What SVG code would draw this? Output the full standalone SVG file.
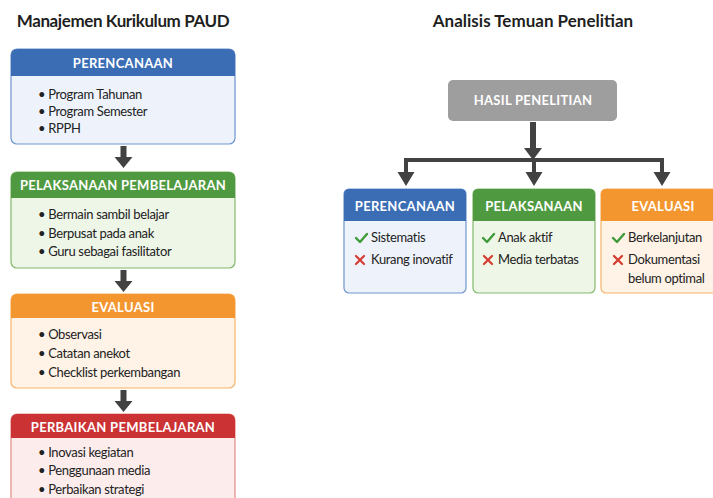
<svg xmlns="http://www.w3.org/2000/svg" width="713" height="498" viewBox="0 0 713 498">
<style>
text{font-family:Lato,"Open Sans","Liberation Sans",sans-serif}
.title{font-size:17px;font-weight:700;fill:#1f1f1f;text-anchor:middle}
.hd{font-size:13px;font-weight:700;fill:#fff;text-anchor:middle;letter-spacing:0.3px}
.it{font-size:13px;fill:#222;letter-spacing:-0.35px}
.conn{stroke:#424242;fill:none}
.ah{fill:#424242}
.ok{stroke:#3f9a3a;stroke-width:2.4;fill:none;stroke-linecap:round;stroke-linejoin:round}
.no{stroke:#d63a30;stroke-width:2.2;fill:none;stroke-linecap:round}
</style>
<rect width="713" height="498" fill="#ffffff"/>
<text class="title" x="123" y="27" letter-spacing="-0.4">Manajemen Kurikulum PAUD</text>
<text class="title" x="533" y="27">Analisis Temuan Penelitian</text>

<g id="connectors">
  <path class="conn" stroke-width="6" d="M123.5 146V158M123.5 270V282M123.5 390V402"/>
  <path class="ah" d="M114.5 157H132.5L123.5 168ZM114.5 281H132.5L123.5 292ZM114.5 401H132.5L123.5 412Z"/>
  <path class="conn" stroke-width="6" d="M533 122V150"/>
  <path class="ah" d="M524 148H542L533 160Z"/>
  <path class="conn" stroke-width="4" d="M406 174V160H662V174M534 160V174"/>
  <path class="ah" d="M397.5 172H414.5L406 186ZM525.5 172H542.5L534 186ZM653.5 172H670.5L662 186Z"/>
</g>

<g id="l-perencanaan">
  <rect x="11" y="49" width="224" height="95" rx="6" fill="#eef3fb" stroke="#6f95cf" stroke-width="1.2"/>
  <path d="M11 76V55a6 6 0 0 1 6-6H229a6 6 0 0 1 6 6V76Z" fill="#3b6db5"/>
  <text class="hd" x="123" y="68">PERENCANAAN</text>
  <text class="it" x="38" y="99">•  Program Tahunan</text>
  <text class="it" x="38" y="116">•  Program Semester</text>
  <text class="it" x="38" y="133">•  RPPH</text>
</g>
<g id="l-pelaksanaan">
  <rect x="11" y="172" width="224" height="96" rx="6" fill="#eef6e8" stroke="#82b86c" stroke-width="1.2"/>
  <path d="M11 198V178a6 6 0 0 1 6-6H229a6 6 0 0 1 6 6V198Z" fill="#4f9a40"/>
  <text class="hd" x="123" y="190">PELAKSANAAN PEMBELAJARAN</text>
  <text class="it" x="38" y="219">•  Bermain sambil belajar</text>
  <text class="it" x="38" y="238">•  Berpusat pada anak</text>
  <text class="it" x="38" y="256">•  Guru sebagai fasilitator</text>
</g>
<g id="l-evaluasi">
  <rect x="11" y="294" width="224" height="94" rx="6" fill="#fef3e6" stroke="#f4b56a" stroke-width="1.2"/>
  <path d="M11 318V300a6 6 0 0 1 6-6H229a6 6 0 0 1 6 6V318Z" fill="#f3962f"/>
  <text class="hd" x="123" y="312">EVALUASI</text>
  <text class="it" x="38" y="339">•  Observasi</text>
  <text class="it" x="38" y="358">•  Catatan anekot</text>
  <text class="it" x="38" y="377">•  Checklist perkembangan</text>
</g>
<g id="l-perbaikan">
  <rect x="11" y="414" width="224" height="100" rx="6" fill="#fcedec" stroke="#e08a86" stroke-width="1.2"/>
  <path d="M11 438V420a6 6 0 0 1 6-6H229a6 6 0 0 1 6 6V438Z" fill="#cb3234"/>
  <text class="hd" x="123" y="432">PERBAIKAN PEMBELAJARAN</text>
  <text class="it" x="38" y="457">•  Inovasi kegiatan</text>
  <text class="it" x="38" y="475">•  Penggunaan media</text>
  <text class="it" x="38" y="494">•  Perbaikan strategi</text>
</g>

<g id="hasil">
  <rect x="448" y="80" width="169" height="41" rx="5" fill="#9e9e9e"/>
  <text class="hd" x="533" y="105">HASIL PENELITIAN</text>
</g>
<g id="r-perencanaan">
  <rect x="344" y="189" width="122" height="104" rx="5" fill="#eef3fb" stroke="#6f95cf" stroke-width="1.2"/>
  <path d="M344 221V194a5 5 0 0 1 5-5H461a5 5 0 0 1 5 5V221Z" fill="#3b6db5"/>
  <text class="hd" x="405" y="211">PERENCANAAN</text>
  <path class="ok" d="M356 238l4 4 7-8"/>
  <text class="it" x="371" y="242">Sistematis</text>
  <path class="no" d="M356 256l8 8M364 256l-8 8"/>
  <text class="it" x="371" y="264">Kurang inovatif</text>
</g>
<g id="r-pelaksanaan">
  <rect x="473" y="189" width="122" height="104" rx="5" fill="#eef6e8" stroke="#82b86c" stroke-width="1.2"/>
  <path d="M473 221V194a5 5 0 0 1 5-5H590a5 5 0 0 1 5 5V221Z" fill="#4f9a40"/>
  <text class="hd" x="534" y="211">PELAKSANAAN</text>
  <path class="ok" d="M483 238l4 4 7-8"/>
  <text class="it" x="498" y="242">Anak aktif</text>
  <path class="no" d="M484 256l8 8M492 256l-8 8"/>
  <text class="it" x="498" y="264">Media terbatas</text>
</g>
<g id="r-evaluasi">
  <rect x="601" y="189" width="122" height="104" rx="5" fill="#fef3e6" stroke="#f4b56a" stroke-width="1.2"/>
  <path d="M601 221V194a5 5 0 0 1 5-5H718a5 5 0 0 1 5 5V221Z" fill="#f3962f"/>
  <text class="hd" x="663" y="211">EVALUASI</text>
  <path class="ok" d="M613 238l4 4 7-8"/>
  <text class="it" x="628" y="242">Berkelanjutan</text>
  <path class="no" d="M614 256l8 8M622 256l-8 8"/>
  <text class="it" x="628" y="264">Dokumentasi</text>
  <text class="it" x="628" y="283">belum optimal</text>
</g>
</svg>
